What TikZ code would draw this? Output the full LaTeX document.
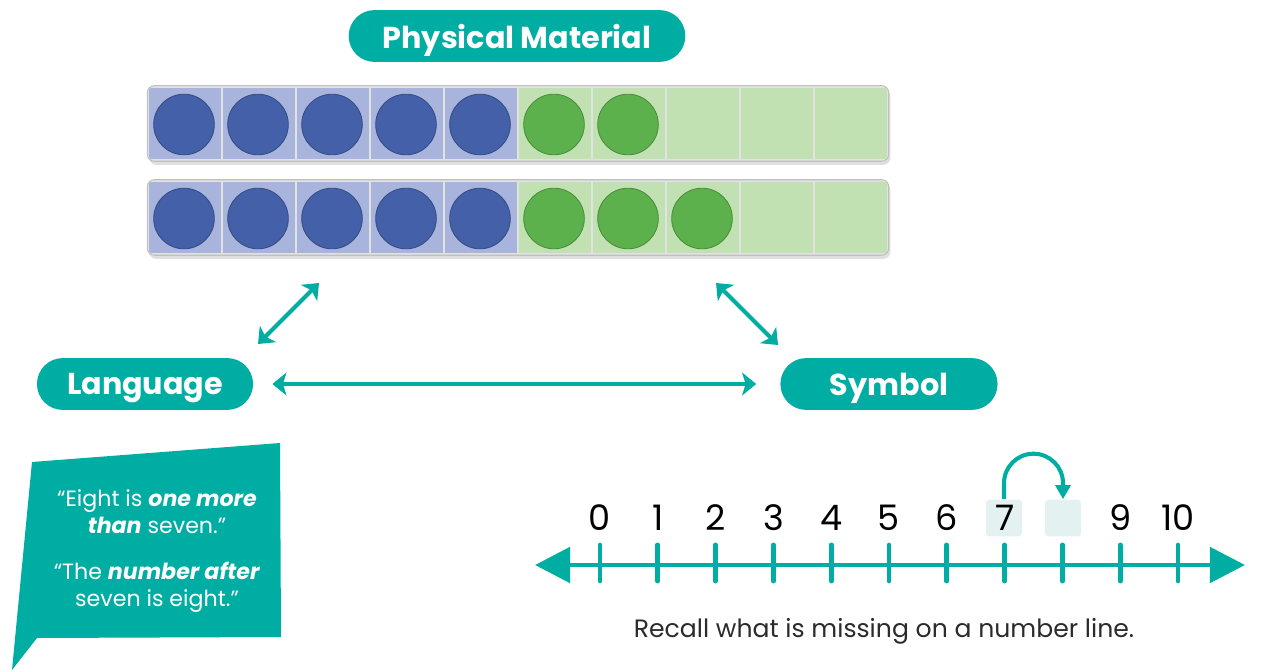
\documentclass[tikz,border=0pt]{standalone}
\usepackage{fontspec}
\setmainfont{Poppins}
\usetikzlibrary{calc, arrows.meta, shadows}

\definecolor{verde acqua}{HTML}{00ADA3}
\definecolor{bluecnt}{HTML}{4360A8}
\definecolor{bluecell}{HTML}{A9B4DC}
\definecolor{greencnt}{HTML}{5CB14C}
\definecolor{greencell}{HTML}{C2E1B3}
\definecolor{boxlight}{HTML}{E3F2F0}
\definecolor{framegray}{HTML}{E2E2E2}
\definecolor{captext}{HTML}{2B2B2B}

\tikzset{
  pill/.style={rectangle, rounded corners=14.7pt, fill=verde acqua, text=white,
    minimum height=29.5pt, inner sep=0pt, text depth=0pt,
    font=\bfseries\fontsize{17.2}{20}\selectfont},
  link/.style={verde acqua, line width=2.3pt,
    {Stealth[length=8pt,width=13pt,inset=2pt]}-{Stealth[length=8pt,width=13pt,inset=2pt]}},
  frame/.style={rectangle, rounded corners=4pt, fill=framegray, draw=framegray!85!black,
    line width=0.6pt, minimum width=422pt, minimum height=43pt, inner sep=0pt,
    drop shadow={shadow xshift=1pt, shadow yshift=-2pt, opacity=0.25}},
  cella/.style={rectangle, minimum width=40.8pt, minimum height=40.3pt, inner sep=0pt},
  counter/.style={circle, minimum size=34.5pt, inner sep=0pt, line width=0.5pt},
  quote/.style={text=white, align=center, font=\fontsize{12.6}{15.3}\selectfont},
  tick/.style={verde acqua, line width=2.8pt, line cap=round},
  numline/.style={verde acqua, line width=2.8pt,
    {Triangle[length=20pt,width=20pt]}-{Triangle[length=20pt,width=20pt]}},
  digit/.style={font=\fontsize{20}{24}\selectfont, inner sep=0pt},
  hbox/.style={rectangle, rounded corners=2pt, fill=boxlight, minimum width=20.5pt,
    minimum height=21pt, inner sep=0pt},
  jump/.style={verde acqua, line width=2.3pt, -{Triangle[length=8pt,width=8.5pt]}},
  caption/.style={text=captext, font=\fontsize{14.3}{17}\selectfont}
}

\begin{document}
\begin{tikzpicture}[x=0.02cm, y=-0.02cm]
  \useasboundingbox (0,0) rectangle (1265,672);

  % etichette
  \node[pill, minimum width=191.6pt] (phys) at (517,36) {Physical Material};
  \node[pill, minimum width=123pt] (lang) at (145,384) {Language};
  \node[pill, minimum width=123.6pt] (symb) at (889,384) {Symbol};

  % cornici da dieci
  \foreach \r/\yy/\n in {1/123.5/7, 2/217.5/8} {
    \node[frame] (tf\r) at (518,\yy) {};
    \begin{scope}
      \clip[rounded corners=3.5pt] (148,\yy-36.5) rectangle (888,\yy+36.5);
      \foreach \c in {1,...,10} {
        \ifnum\c<6 \def\cellcol{bluecell}\else\def\cellcol{greencell}\fi
        \node[cella, fill=\cellcol] (r\r c\c) at ({185+74*(\c-1)},\yy) {};
      }
    \end{scope}
    \foreach \c in {1,...,\n} {
      \ifnum\c<6 \def\cntcol{bluecnt}\else\def\cntcol{greencnt}\fi
      \node[counter, fill=\cntcol, draw=\cntcol!80!black] (k\r c\c) at ({184+74*(\c-1)},\yy+1) {};
    }
  }

  % frecce tra le etichette
  \coordinate (dl1) at (258,344);
  \coordinate (dl2) at (319,283);
  \coordinate (dr1) at (716,283);
  \coordinate (dr2) at (778,345);
  \draw[link] (dl1) -- (dl2);
  \draw[link] (dr1) -- (dr2);
  \draw[link, shorten <=10.8pt, shorten >=13.6pt] (lang.east) -- (symb.west);

  % fumetto
  \fill[verde acqua] (32,462) -- (280,443) -- (281,637) -- (37,638) -- (12,670) -- cycle;
  \node[quote] (q1) at (157,512) {“Eight is \textbf{\textit{one more}}\\\textbf{\textit{than}} seven.”};
  \node[quote] (q2) at (157,587) {“The \textbf{\textit{number after}}\\seven is eight.”};

  % retta dei numeri
  \node[hbox] (box7) at (1004,518) {};
  \node[hbox] (box8) at (1063,518) {};
  \coordinate (nlL) at (535,565);
  \coordinate (nlR) at (1245,565);
  \draw[numline] (nlL) -- (nlR);
  \foreach \i in {0,...,10} {
    \draw[tick] ({600+57.8*\i},545) -- ++(0,36);
    \ifnum\i=8 \else
      \node[digit] (n\i) at ({600+57.8*\i},518) {\i};
    \fi
  }
  \draw[jump] (box7.north) -- ++(0,-16) arc[start angle=180, end angle=360, radius=29.5] -- (box8.north);

  \node[caption] (cap) at (884,631) {Recall what is missing on a number line.};
\end{tikzpicture}
\end{document}
